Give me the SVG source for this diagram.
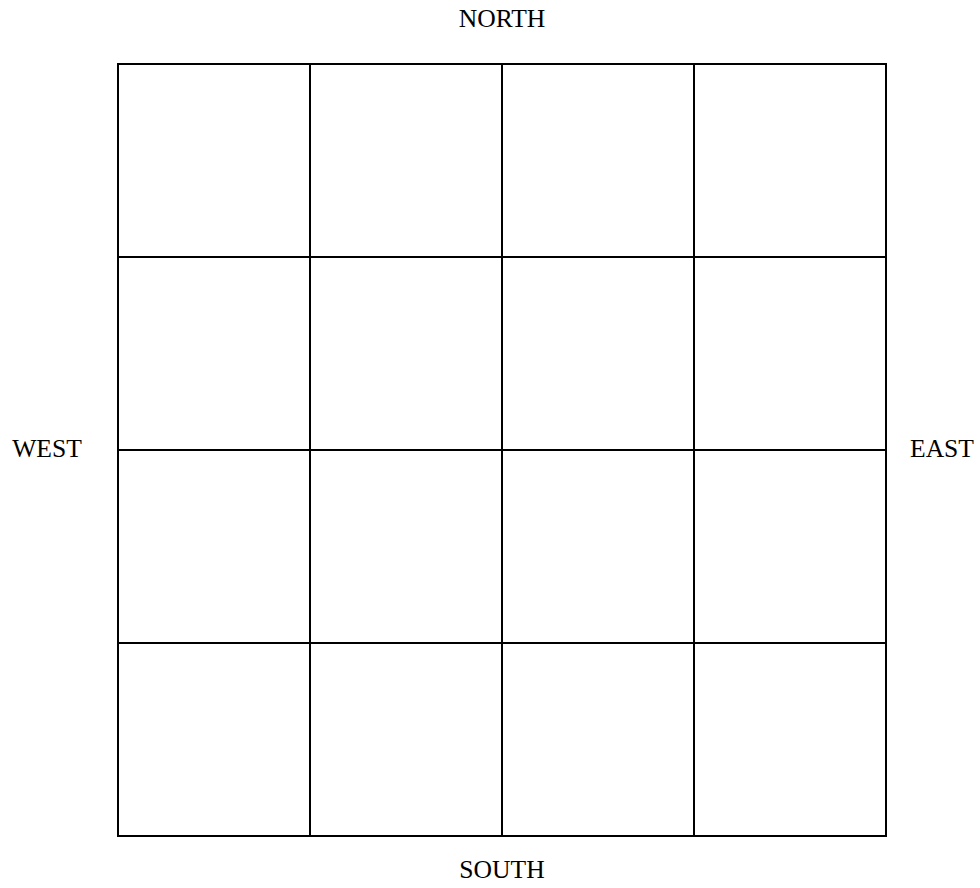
<svg xmlns="http://www.w3.org/2000/svg" width="980" height="888" viewBox="0 0 980 888">
<style>
.lbl{font-family:"Liberation Serif","Times New Roman",serif;font-size:25.6px;fill:#000;text-anchor:middle}
.cell{fill:#fff;stroke:#000;stroke-width:2}
</style>
<rect width="980" height="888" fill="#fff"/>
<g id="grid">
<rect class="cell" x="118" y="64" width="192" height="193"/>
<rect class="cell" x="310" y="64" width="192" height="193"/>
<rect class="cell" x="502" y="64" width="192" height="193"/>
<rect class="cell" x="694" y="64" width="192" height="193"/>
<rect class="cell" x="118" y="257" width="192" height="193"/>
<rect class="cell" x="310" y="257" width="192" height="193"/>
<rect class="cell" x="502" y="257" width="192" height="193"/>
<rect class="cell" x="694" y="257" width="192" height="193"/>
<rect class="cell" x="118" y="450" width="192" height="193"/>
<rect class="cell" x="310" y="450" width="192" height="193"/>
<rect class="cell" x="502" y="450" width="192" height="193"/>
<rect class="cell" x="694" y="450" width="192" height="193"/>
<rect class="cell" x="118" y="643" width="192" height="193"/>
<rect class="cell" x="310" y="643" width="192" height="193"/>
<rect class="cell" x="502" y="643" width="192" height="193"/>
<rect class="cell" x="694" y="643" width="192" height="193"/>
</g>
<g id="labels">
<text class="lbl" x="502" y="27">NORTH</text>
<text class="lbl" x="47" y="457">WEST</text>
<text class="lbl" x="942" y="457">EAST</text>
<text class="lbl" x="502" y="878">SOUTH</text>
</g>
</svg>
